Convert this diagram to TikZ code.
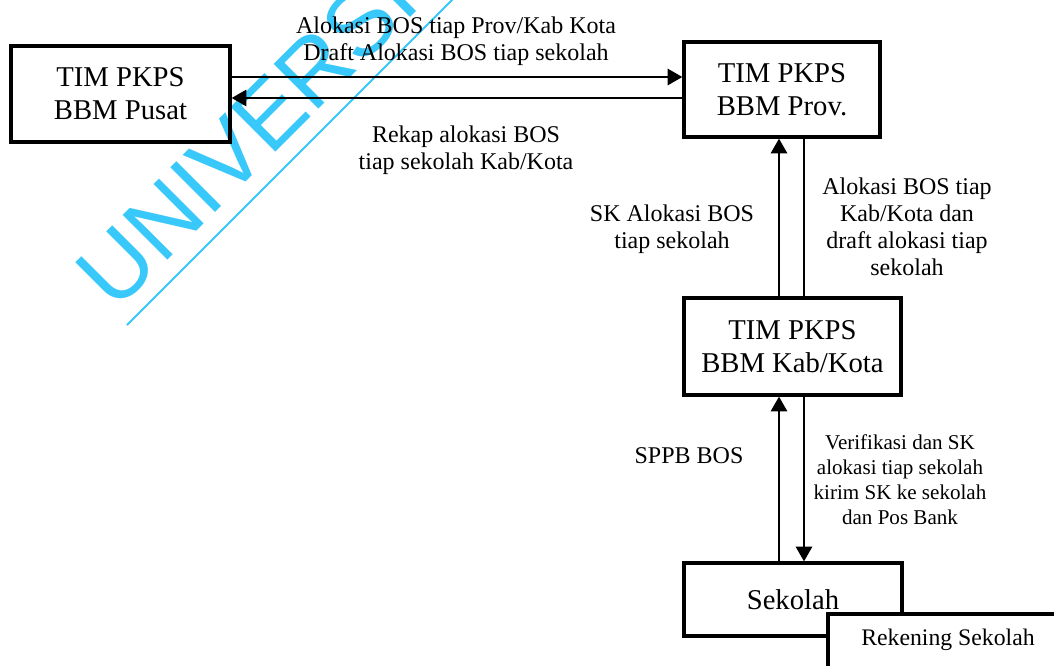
\documentclass[tikz,border=0pt]{standalone}
\usepackage{fontspec}
\setmainfont{Liberation Serif}
\newfontfamily\markfont{Liberation Sans}
\usetikzlibrary{arrows.meta, positioning, calc}
\definecolor{markcyan}{RGB}{56,200,250}

\begin{document}
\begin{tikzpicture}[
  x=0.75pt, y=-0.75pt,
  unit/.style={
    draw,
    line width=2.4pt,
    rectangle,
    inner sep=0pt,
    align=center,
    font=\fontsize{21.5}{24.75}\selectfont
  },
  flow/.style={line width=2pt, -{Triangle[length=11pt,width=12pt]}},
  plain/.style={line width=2pt},
  note/.style={align=center, font=\fontsize{18}{20.25}\selectfont},
  smallnote/.style={align=center, font=\fontsize{15.8}{18.75}\selectfont}
]

  \clip (0,0) rectangle (1054,665);
  \fill[white] (0,0) rectangle (1054,665);

  % watermark behind everything
  \node[anchor=base west, rotate=45, inner sep=0pt, text=markcyan,
        font=\markfont\fontsize{69}{78}\selectfont] (mark) at (115,313) {UNIVERSI};
  \coordinate (markstart) at (127,325);
  \coordinate (markend) at (470,-18);
  \draw[markcyan, line width=1.5pt] (markstart) -- (markend);

  % the offices
  \node[unit, minimum width=164.25pt, minimum height=72pt] (pusat) at (120.5,94) {TIM PKPS\\BBM Pusat};
  \node[unit, minimum width=147pt, minimum height=71.25pt] (prov) at (782,89.5) {TIM PKPS\\BBM Prov.};
  \node[unit, minimum width=162.75pt, minimum height=72.75pt] (kab) at (792.5,346.5) {TIM PKPS\\BBM Kab/Kota};
  \node[unit, minimum width=163.5pt, minimum height=54.75pt] (sekolah) at (793,599.5) {Sekolah};

  % account box sits over the corner of Sekolah
  \draw[line width=2.4pt, fill=white] (828,614) rectangle (1080,700);
  \node[font=\fontsize{17.8}{20}\selectfont] (rekening) at (948,640) {Rekening Sekolah};

  \coordinate (ytop) at (0,77);
  \coordinate (ybot) at (0,98);
  \coordinate (xup) at (779,0);
  \coordinate (xdown) at (804,0);

  \draw[flow] (pusat.east |- ytop) -- (prov.west |- ytop);
  \draw[flow] (prov.west |- ybot) -- (pusat.east |- ybot);
  \draw[flow] (kab.north -| xup) -- (prov.south -| xup);
  \draw[plain] (prov.south -| xdown) -- (kab.north -| xdown);
  \draw[flow] (sekolah.north -| xup) -- (kab.south -| xup);
  \draw[flow] (kab.south -| xdown) -- (sekolah.north -| xdown);

  % labels on the flows
  \node[note] (lblalokasi) at (456,41) {Alokasi BOS tiap Prov/Kab Kota\\Draft Alokasi BOS tiap sekolah};
  \node[note] (lblrekap) at (466,150) {Rekap alokasi BOS\\tiap sekolah Kab/Kota};
  \node[note] (lblsk) at (672,229) {SK Alokasi BOS\\tiap sekolah};
  \node[note] (lbldraft) at (907,227) {Alokasi BOS tiap\\Kab/Kota dan\\draft alokasi tiap\\sekolah};
  \node[note] (lblsppb) at (689,456) {SPPB BOS};
  \node[smallnote] (lblverif) at (900,480) {Verifikasi dan SK\\alokasi tiap sekolah\\kirim SK ke sekolah\\dan Pos Bank};

\end{tikzpicture}
\end{document}
